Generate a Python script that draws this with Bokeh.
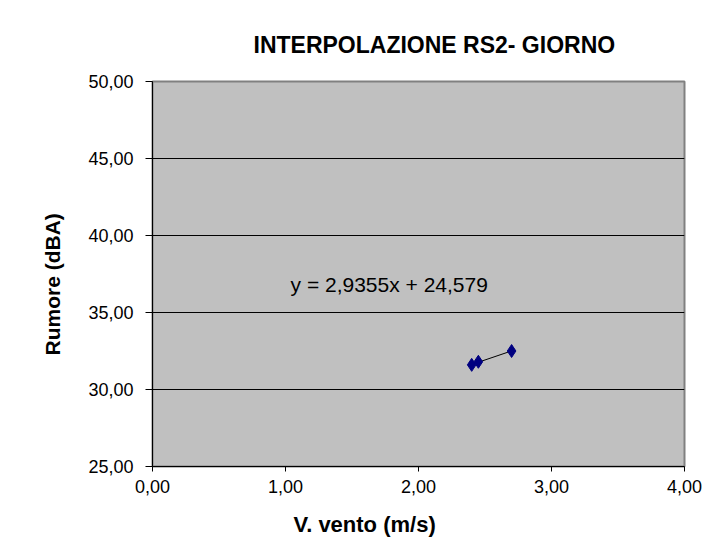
from bokeh.plotting import figure
from bokeh.models import Range1d, FixedTicker, CustomJSTickFormatter, Label, Title
from bokeh.embed import file_html
from bokeh.resources import INLINE

# Data
wind_speed = [2.40, 2.45, 2.70]
noise_dba = [31.6, 31.8, 32.5]
slope = 2.9355
intercept = 24.579
equation_text = "y = 2,9355x + 24,579"
title_text = "INTERPOLAZIONE RS2- GIORNO"
x_title = "V. vento (m/s)"
y_title = "Rumore (dBA)"
x_ticks = [0, 1, 2, 3, 4]
y_ticks = [25, 30, 35, 40, 45, 50]

FONT = "Liberation Sans"

p = figure(width=702, height=551, output_backend="svg", toolbar_location=None,
           x_range=Range1d(0, 4), y_range=Range1d(25, 50),
           min_border_left=152, min_border_right=18, min_border_top=81, min_border_bottom=85)
p.background_fill_color = "#C0C0C0"
p.border_fill_color = "white"
p.outline_line_color = "#808080"
p.outline_line_width = 2

fmt = CustomJSTickFormatter(code="return tick.toFixed(2).replace('.', ',');")
for ax, ticks in ((p.xaxis, x_ticks), (p.yaxis, y_ticks)):
    ax.ticker = FixedTicker(ticks=ticks)
    ax.formatter = fmt
    ax.axis_line_color = "black"
    ax.axis_line_width = 1
    ax.major_tick_line_color = "black"
    ax.major_tick_in = 0
    ax.minor_tick_line_color = None
    ax.major_label_text_font = FONT
    ax.major_label_text_font_size = "18px"
    ax.major_label_text_color = "black"
p.yaxis.major_tick_out = 7
p.xaxis.major_tick_out = 5
p.yaxis.major_label_standoff = 12
p.xaxis.major_label_standoff = 8

p.xgrid.grid_line_color = None
p.ygrid.grid_line_color = "black"
p.ygrid.grid_line_width = 1

# trendline
xl = [min(wind_speed), max(wind_speed)]
yl = [slope * v + intercept for v in xl]
p.line(xl, yl, line_color="black", line_width=1)
p.scatter(wind_speed, noise_dba, marker="diamond", size=13, fill_color="#000080",
          line_color="#000080")

p.add_layout(Label(x=1.038, y=36.8, text=equation_text, text_font=FONT,
                   text_font_size="21px", text_baseline="middle", text_align="left",
                   text_color="black"))

p.add_layout(Title(text=title_text, align="left", offset=101, standoff=48,
                   text_font=FONT, text_font_size="23px", text_font_style="bold",
                   text_color="black"), "above")
p.add_layout(Title(text=x_title, align="left", offset=141, standoff=28,
                   text_font=FONT, text_font_size="22px", text_font_style="bold",
                   text_color="black"), "below")
p.add_layout(Title(text=y_title, align="left", offset=111, standoff=44,
                   text_font=FONT, text_font_size="21px", text_font_style="bold",
                   text_color="black"), "left")

open("out.html", "w").write(file_html(p, INLINE))
